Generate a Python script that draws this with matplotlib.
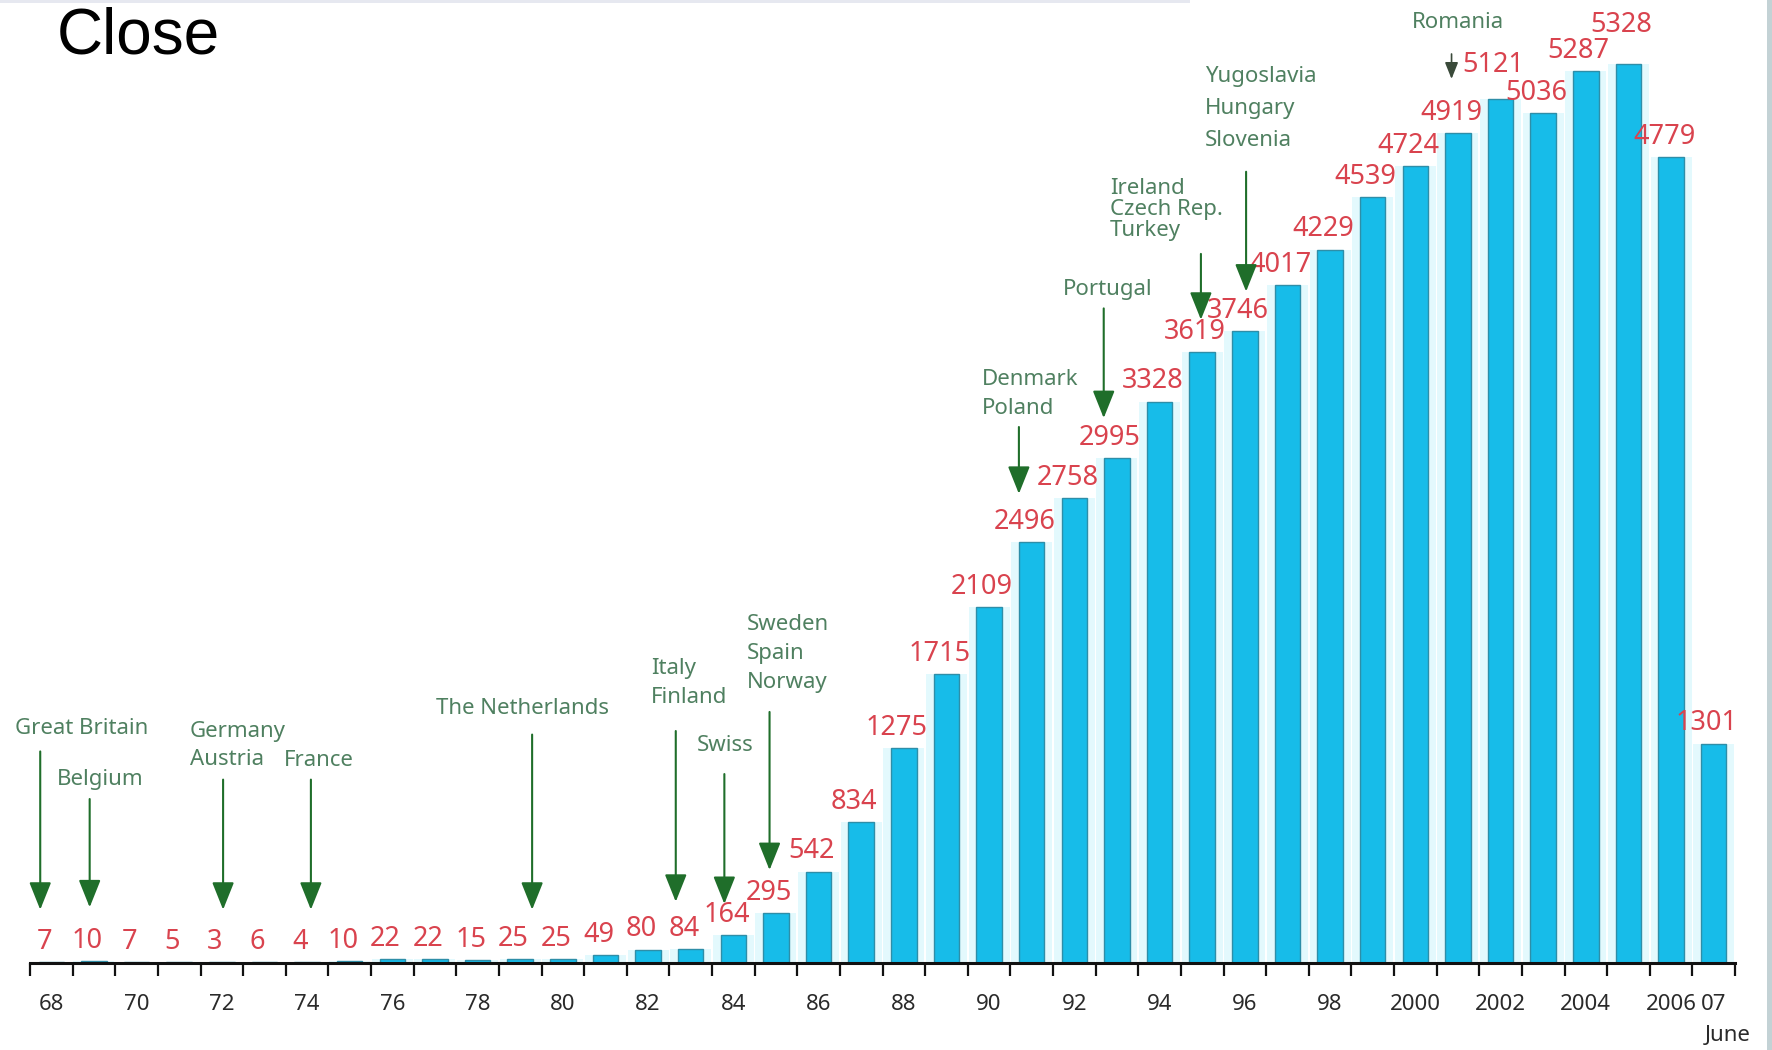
import numpy as np
import matplotlib
matplotlib.use("Agg")
import matplotlib.pyplot as plt
from matplotlib.patches import Rectangle

plt.rcParams["font.family"] = ["Noto Sans", "DejaVu Sans"]

# ---- data -------------------------------------------------------------
years = ["68", "69", "70", "71", "72", "73", "74", "75", "76", "77",
         "78", "79", "80", "81", "82", "83", "84", "85", "86", "87",
         "88", "89", "90", "91", "92", "93", "94", "95", "96", "97",
         "98", "99", "2000", "2001", "2002", "2003", "2004", "2005", "2006", "2007"]
values = [7, 10, 7, 5, 3, 6, 4, 10, 22, 22,
          15, 25, 25, 49, 80, 84, 164, 295, 542, 834,
          1275, 1715, 2109, 2496, 2758, 2995, 3328, 3619, 3746, 4017,
          4229, 4539, 4724, 4919, 5121, 5036, 5287, 5328, 4779, 1301]
tick_years = ["68", "70", "72", "74", "76", "78", "80", "82", "84", "86", "88",
              "90", "92", "94", "96", "98", "2000", "2002", "2004", "2006", "2007"]
tick_labels = ["68", "70", "72", "74", "76", "78", "80", "82", "84", "86", "88",
               "90", "92", "94", "96", "98", "2000", "2002", "2004", "2006", "07"]

country_labels = ["Great Britain", "Belgium", "Germany\nAustria", "France",
                  "The Netherlands", "Italy\nFinland", "Swiss",
                  "Sweden\nSpain\nNorway", "Denmark\nPoland", "Portugal",
                  "Ireland\nCzech Rep.\nTurkey", "Yugoslavia\nHungary\nSlovenia",
                  "Romania"]
country_years = ["68", "69", "72", "74", "79", "83", "84", "85", "91", "93",
                 "95", "96", "2001"]

# ---- annotation layout (x offset from bar, arrow start/end, text anchor) ----
arrow_dx = [-0.26, -0.10, 0.03, 0.09, 0.28, -0.35, -0.21, -0.15, -0.30, -0.31,
            -0.03, 0.03, -0.15]
arrow_from = [1254, 972, 1087, 1087, 1354, 1375, 1120, 1488, 3177, 3880, 4203, 4690, 5388]
arrow_to = [316, 330, 316, 316, 316, 363, 350, 551, 2781, 3230, 3813, 3980, 5240]
text_x = [-0.86, 0.12, 3.25, 5.45, 9.03, 14.07, 15.15, 16.32, 21.83, 23.72, 24.83, 27.06, 31.91]
text_y = [1388, 1086, 1375, 1200, 1508, 1743, 1287, 2004, 3458, 3993, 4590, 5253, 5574]
line_step_px = [28, 28, 28, 28, 28, 29, 28, 29, 29, 28, 21, 32, 28]
# extra lift (px) for crowded value labels near the peak
label_lift_px = {"2002": 14, "2005": 19}

BAR = "#17BCE9"
BAR_EDGE = "#2E8EA8"
HALO = "#E3F9FD"
RED = "#D9434E"
GREEN_TXT = "#4F8060"
GREEN_ARROW = "#1F6E2A"

W, H = 1772, 1050
PT = 72 / 100  # points per pixel at 100 dpi
fig = plt.figure(figsize=(W / 100, H / 100), dpi=100)
fig.patch.set_facecolor("white")

ax_left, ax_right, ax_base = 30, 1735, 963
ax = fig.add_axes([ax_left / W, (H - ax_base) / H, (ax_right - ax_left) / W, ax_base / H])
ax.set_facecolor("none")

x = np.arange(len(years))
pos = {y: i for i, y in enumerate(years)}

ax.bar(x, values, width=0.96, color=HALO, zorder=1, linewidth=0)
ax.bar(x, values, width=0.6, color=BAR, edgecolor=BAR_EDGE, linewidth=1.0, zorder=2)

ax.set_xlim(-0.5, len(years) - 0.5)
ax.set_ylim(0, 5708)

for s in ("top", "right", "left"):
    ax.spines[s].set_visible(False)
ax.spines["bottom"].set_linewidth(2.2)
ax.spines["bottom"].set_color("#111111")
ax.spines["bottom"].set_zorder(4)

ax.set_yticks([])
ax.set_xticks(np.arange(-0.5, len(years), 1.0))
ax.set_xticklabels([])
ax.tick_params(axis="x", which="major", direction="out", length=9, width=1.6, color="#111111")
ax.set_xticks([pos[t] for t in tick_years], minor=True)
ax.set_xticklabels(tick_labels, minor=True, fontsize=16, color="#2a2a2a")
ax.tick_params(axis="x", which="minor", length=0, pad=22)

# value labels above bars
for yr, xi, v in zip(years, x, values):
    lift = label_lift_px.get(yr, 0)
    ax.annotate(f"{v}", xy=(xi, v), xytext=(-5, 14.5 + lift * PT), textcoords="offset points",
                ha="center", va="center", fontsize=19.5, color=RED, zorder=5,
                annotation_clip=False)

ax.annotate("June", xy=(pos["2007"], 0), xytext=(10, -52), textcoords="offset points",
            ha="center", va="center", fontsize=16, color="#2a2a2a", annotation_clip=False)

# country accession arrows and labels
for i, (lab, yr) in enumerate(zip(country_labels, country_years)):
    xa = pos[yr] + arrow_dx[i]
    if lab == "Romania":
        style = "-|>,head_length=0.5,head_width=0.2"
        lw, col = 1.2, "#3a4a3a"
    else:
        style = "-|>,head_length=0.85,head_width=0.34"
        lw, col = 1.5, GREEN_ARROW
    ax.annotate("", xy=(xa, arrow_to[i]), xytext=(xa, arrow_from[i]),
                arrowprops=dict(arrowstyle=style, mutation_scale=20, lw=lw,
                                color=col, shrinkA=0, shrinkB=0),
                zorder=6, annotation_clip=False)
    for j, line in enumerate(lab.split("\n")):
        ax.annotate(line, xy=(text_x[i], text_y[i]),
                    xytext=(0, -j * line_step_px[i] * PT), textcoords="offset points",
                    ha="left", va="center", fontsize=16, color=GREEN_TXT,
                    annotation_clip=False, zorder=6)

# window chrome around the chart
fig.patches.append(Rectangle((0, 1 - 3 / H), 1190 / W, 3 / H, transform=fig.transFigure,
                             facecolor="#E6E8F0", edgecolor="none", zorder=0))
fig.patches.append(Rectangle((1 - 5 / W, 0), 5 / W, 1, transform=fig.transFigure,
                             facecolor="#C3D2D5", edgecolor="none", zorder=0))
fig.text(57 / W, 1 - 6 / H, "Close", fontsize=46, family=["Liberation Sans", "DejaVu Sans"],
         color="black", ha="left", va="top")

fig.savefig("out.png", dpi=100, facecolor="white")
